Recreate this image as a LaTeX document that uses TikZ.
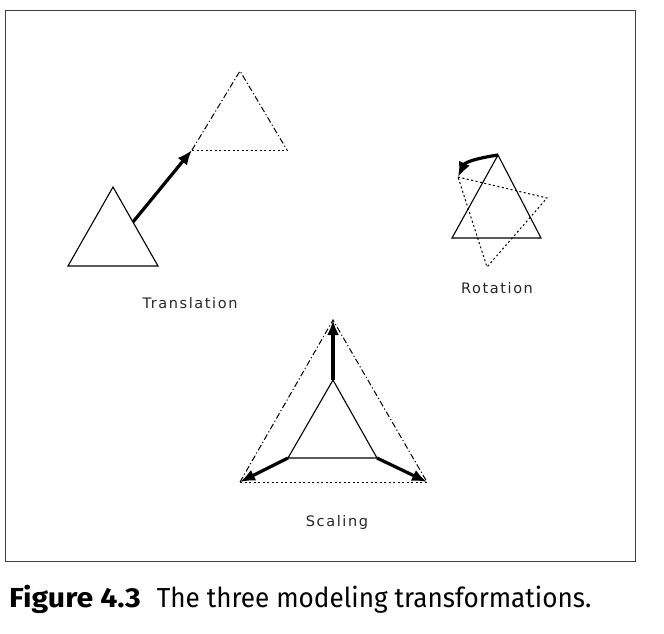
\documentclass[tikz,border=0pt]{standalone}
\usepackage{fontspec}
\setmainfont{DejaVu Sans}
\newfontfamily\lblfont[LetterSpace=11]{DejaVu Sans}
\newfontfamily\capfont{Fira Sans}
\usetikzlibrary{arrows.meta}
\begin{document}
\begin{tikzpicture}[x=1pt,y=-1pt,
  solidtri/.style={line width=1.1pt},
  dashdottri/.style={line width=1pt, dash pattern=on 6pt off 2.5pt on 1.2pt off 2.5pt},
  dottri/.style={line width=1pt, dash pattern=on 2pt off 2.5pt},
  movearrow/.style={line width=3.2pt, -{Latex[length=15pt,width=12pt]}},
  lbl/.style={font=\lblfont\fontsize{14.5}{16}\selectfont, inner sep=0pt, text=black!85}]
\useasboundingbox (0,0) rectangle (664,633);
\draw[line width=1pt, black!75] (5,10) rectangle (635,561);
% Translation
\coordinate (ta) at (113,187);
\coordinate (tl) at (68,266);
\coordinate (tr) at (158,266);
\coordinate (ts) at (133,222);
\coordinate (da) at (240,71);
\coordinate (dl) at (192,150);
\coordinate (dr) at (287,150);
\draw[solidtri] (ta) -- (tl) -- (tr) -- cycle;
\draw[dashdottri] (dl) -- (da) -- (dr);
\draw[dottri] (dl) -- (dr);
\draw[movearrow] (ts) -- (dl);
\node[lbl] (tlab) at (190,303) {Translation};
% Rotation
\coordinate (ra) at (498,155);
\coordinate (rl) at (452,238);
\coordinate (rr) at (541,238);
\coordinate (q1) at (458,177);
\coordinate (q2) at (547,198);
\coordinate (q3) at (487,267);
\draw[solidtri] (ra) -- (rl) -- (rr) -- cycle;
\draw[dottri] (q1) -- (q2) -- (q3) -- cycle;
\draw[movearrow] (ra) .. controls (478,158) and (465,162) .. (q1);
\node[lbl] (rlab) at (497,288) {Rotation};
% Scaling
\coordinate (sa) at (333,320);
\coordinate (sl) at (240,482);
\coordinate (sr) at (427,482);
\coordinate (ia) at (333,380);
\coordinate (il) at (288,458);
\coordinate (ir) at (377,458);
\draw[dashdottri] (sl) -- (sa) -- (sr);
\draw[dottri] (sl) -- (sr);
\draw[solidtri] (ia) -- (il) -- (ir) -- cycle;
\draw[movearrow] (ia) -- (sa);
\draw[movearrow] (il) -- (sl);
\draw[movearrow] (ir) -- (sr);
\node[lbl] (slab) at (337,522) {Scaling};
% Caption
\node[anchor=base west, inner sep=0pt, font=\capfont\fontsize{27.5}{30}\selectfont] (cap) at (9,607)
  {\scalebox{1.1}[1]{\textbf{Figure 4.3}}\hspace{16pt}\scalebox{0.95}[1]{The three modeling transformations.}};
\end{tikzpicture}
\end{document}
